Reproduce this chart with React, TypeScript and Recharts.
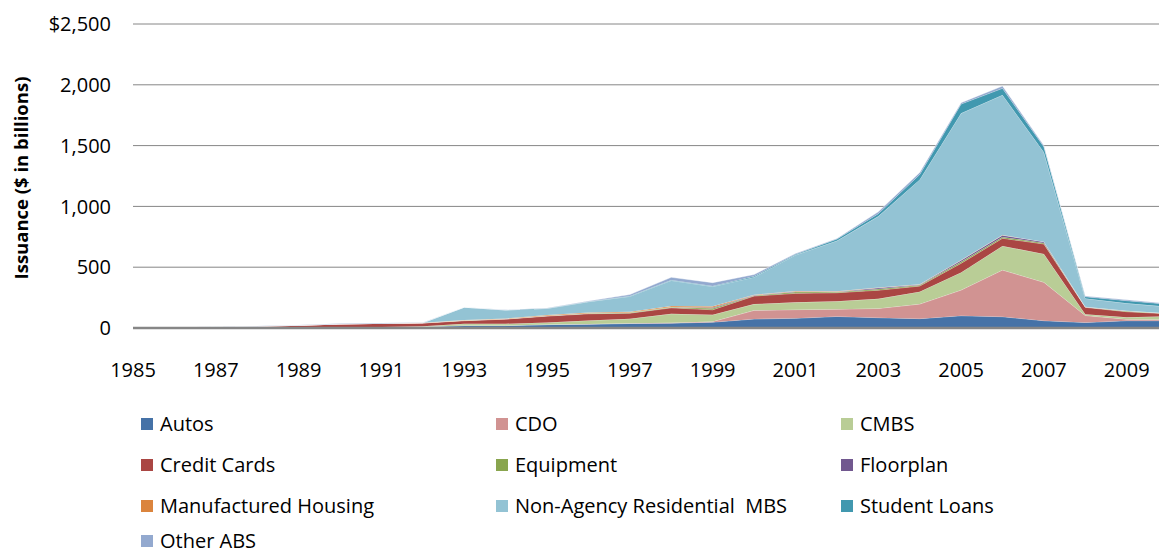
import { AreaChart, Area, XAxis, YAxis, CartesianGrid } from 'recharts';

// issuance by sector, $ billions
const years = [
  1985, 1986, 1987, 1988, 1989, 1990, 1991, 1992, 1993, 1994, 1995, 1996, 1997,
  1998, 1999, 2000, 2001, 2002, 2003, 2004, 2005, 2006, 2007, 2008, 2009, 2010,
];
const autos = [1, 3, 4, 5, 6, 8, 9, 10, 20, 20, 28, 31, 37, 40, 48, 74, 80, 95, 85, 77, 101, 93, 60, 45, 60, 60];
const cdo = [0, 0, 0, 0, 0, 0, 0, 0, 0, 0, 0, 2, 3, 4, 5, 71, 71, 60, 76, 120, 211, 384, 316, 58, 12, 10];
const cmbs = [0, 0, 0, 0, 0, 0, 0, 4, 15, 15, 17, 29, 36, 73, 56, 52, 60, 65, 79, 102, 145, 197, 233, 10, 16, 27];
const creditCards = [0, 2, 4, 9, 16, 25, 29, 27, 25, 38, 53, 55, 46, 49, 41, 66, 74, 70, 71, 46, 75, 64, 82, 57, 46, 20];
const equipment = [0, 0, 0, 0, 0, 0, 0, 1, 3, 2, 3, 4, 5, 6, 12, 5, 12, 6, 10, 8, 12, 11, 9, 3, 6, 3];
const floorplan = [0, 0, 0, 0, 0, 0, 0, 0, 0, 0, 0, 1, 1, 1, 7, 3, 4, 3, 9, 5, 13, 14, 9, 2, 2, 1];
const manufHousing = [0, 0, 0, 0, 0, 0, 0, 1, 3, 3, 6, 6, 6, 8, 10, 3, 3, 3, 3, 2, 2, 2, 1, 0, 0, 0];
const nonAgencyRmbs = [0, 0, 2, 0, 0, 0, 0, 0, 105, 70, 54, 88, 126, 210, 162, 144, 296, 415, 585, 860, 1207, 1151, 735, 68, 61, 53];
const studentLoans = [0, 0, 0, 0, 0, 0, 0, 0, 0, 0, 1, 2, 3, 4, 5, 8, 6, 14, 22, 42, 76, 55, 45, 15, 22, 22];
const otherAbs = [1, 1, 0, 2, 3, 4, 4, 2, 0, 2, 3, 4, 12, 22, 27, 14, 7, 6, 15, 17, 11, 19, 10, 5, 7, 4];

const xTicks = [1985, 1987, 1989, 1991, 1993, 1995, 1997, 1999, 2001, 2003, 2005, 2007, 2009];
const yTicks = [0, 500, 1000, 1500, 2000, 2500];

const SERIES = [
  { key: 'autos', name: 'Autos', color: '#4572A7', values: autos },
  { key: 'cdo', name: 'CDO', color: '#D19392', values: cdo },
  { key: 'cmbs', name: 'CMBS', color: '#B9CD96', values: cmbs },
  { key: 'creditCards', name: 'Credit Cards', color: '#AA4643', values: creditCards },
  { key: 'equipment', name: 'Equipment', color: '#89A54E', values: equipment },
  { key: 'floorplan', name: 'Floorplan', color: '#71588F', values: floorplan },
  { key: 'manufHousing', name: 'Manufactured Housing', color: '#DB843D', values: manufHousing },
  { key: 'nonAgencyRmbs', name: 'Non-Agency Residential  MBS', color: '#93C3D4', values: nonAgencyRmbs },
  { key: 'studentLoans', name: 'Student Loans', color: '#4198AF', values: studentLoans },
  { key: 'otherAbs', name: 'Other ABS', color: '#93A9CF', values: otherAbs },
];

const data = years.map((year, i) => {
  const row: Record<string, number> = { year };
  SERIES.forEach((s) => {
    row[s.key] = s.values[i];
  });
  return row;
});

const FONT = '"Open Sans", sans-serif';
const GRID = '#868686';

const legendCols = [141, 496, 841];
const legendRows = [424, 465, 506, 541];

export default function App() {
  return (
    <div
      style={{
        position: 'absolute',
        left: 0,
        top: 0,
        width: 1159,
        height: 555,
        overflow: 'hidden',
        background: '#fff',
        fontFamily: FONT,
      }}
    >
      <AreaChart width={1159} height={400} data={data} margin={{ top: 24, right: 0, bottom: 0, left: 0 }}>
        <CartesianGrid vertical={false} stroke={GRID} strokeWidth={1} />
        <XAxis
          dataKey="year"
          type="number"
          domain={[1985, 2009.78]}
          allowDataOverflow
          ticks={xTicks}
          tickSize={0}
          tickMargin={35}
          height={72}
          axisLine={{ stroke: GRID, strokeWidth: 2.5 }}
          tick={{ fill: '#000', fontSize: 20, fontFamily: FONT }}
        />
        <YAxis
          domain={[0, 2500]}
          ticks={yTicks}
          width={133}
          tickSize={0}
          tickMargin={22}
          axisLine={false}
          tick={{ fill: '#000', fontSize: 20, fontFamily: FONT }}
          tickFormatter={(v: number) => (v === 2500 ? '$2,500' : v.toLocaleString('en-US'))}
          label={{
            content: () => (
              <text
                transform="translate(20,178) rotate(-90)"
                textAnchor="middle"
                dominantBaseline="central"
                fontSize={18.5}
                fontWeight="bold"
                fontFamily={FONT}
                fill="#000"
              >
                Issuance ($ in billions)
              </text>
            ),
          }}
        />
        {SERIES.map((s) => (
          <Area
            key={s.key}
            dataKey={s.key}
            name={s.name}
            stackId="1"
            type="linear"
            fill={s.color}
            fillOpacity={1}
            stroke="#ffffff"
            strokeOpacity={0.55}
            strokeWidth={0.8}
            isAnimationActive={false}
          />
        ))}
      </AreaChart>
      {SERIES.map((s, i) => (
        <div
          key={s.key}
          style={{
            position: 'absolute',
            left: legendCols[i % 3],
            top: legendRows[Math.floor(i / 3)] - 8,
            height: 16,
            display: 'flex',
            alignItems: 'center',
            fontSize: 20,
            lineHeight: '16px',
            color: '#000',
            whiteSpace: 'pre',
          }}
        >
          <span style={{ width: 12, height: 12, background: s.color, marginRight: 7, flex: 'none' }} />
          <span>{s.name}</span>
        </div>
      ))}
    </div>
  );
}
